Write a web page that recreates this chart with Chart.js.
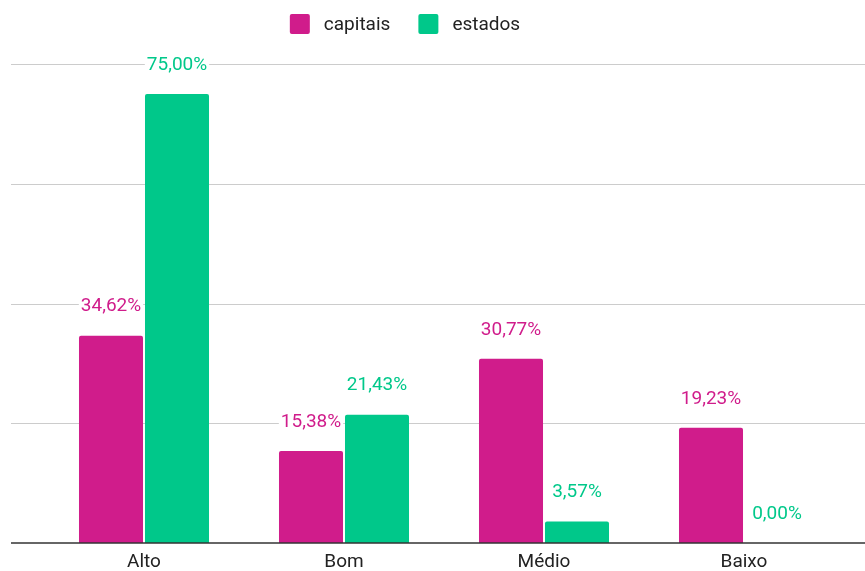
<!DOCTYPE html>
<html lang="pt-BR">
<head>
<meta charset="utf-8">
<title>capitais x estados</title>
<script src="https://cdn.jsdelivr.net/npm/chart.js@4.4.1/dist/chart.umd.min.js"></script>
<style>
    html, body { margin: 0; padding: 0; background: #ffffff; }
    #chartWrap { width: 865px; height: 571px; position: relative; }
</style>
</head>
<body>
<div id="chartWrap">
    <canvas id="levelsChart"></canvas>
</div>
<script>
// Data
const categories = ['Alto', 'Bom', 'Médio', 'Baixo'];
const capitais = [34.62, 15.38, 30.77, 19.23];
const estados = [75.00, 21.43, 3.57, 0.00];
const yTicks = [20, 40, 60, 80];

const COLORS = {
    capitais: '#D01C8B',
    estados: '#00C88A',
    grid: '#CCCCCC',
    baseline: '#333333',
    text: '#222222'
};
const FONT = 'Roboto, "Noto Sans", sans-serif';

// grid lines run past the plot area, like the original
const wideGrid = {
    id: 'wideGrid',
    beforeDatasetsDraw(chart) {
        const { ctx, scales: { y } } = chart;
        ctx.save();
        ctx.strokeStyle = COLORS.grid;
        ctx.lineWidth = 1;
        yTicks.forEach(v => {
            const py = Math.round(y.getPixelForValue(v)) + 0.5;
            ctx.beginPath();
            ctx.moveTo(11, py);
            ctx.lineTo(chart.width, py);
            ctx.stroke();
        });
        ctx.restore();
    },
    afterDatasetsDraw(chart) {
        const { ctx, scales: { y } } = chart;
        const py = y.getPixelForValue(0);
        ctx.save();
        ctx.strokeStyle = COLORS.baseline;
        ctx.lineWidth = 1.5;
        ctx.beginPath();
        ctx.moveTo(11, py);
        ctx.lineTo(chart.width, py);
        ctx.stroke();
        ctx.restore();
    }
};

// value labels above the bars
const barLabels = {
    id: 'barLabels',
    afterDatasetsDraw(chart) {
        const { ctx } = chart;
        ctx.save();
        ctx.font = '19px ' + FONT;
        ctx.textAlign = 'center';
        ctx.textBaseline = 'middle';
        chart.data.datasets.forEach((ds, i) => {
            chart.getDatasetMeta(i).data.forEach((bar, j) => {
                const text = ds.data[j].toFixed(2).replace('.', ',') + '%';
                const w = ctx.measureText(text).width;
                const cy = bar.y - 29;
                ctx.fillStyle = '#ffffff';
                ctx.fillRect(bar.x - w / 2 - 2, cy - 11, w + 4, 22);
                ctx.fillStyle = ds.backgroundColor;
                ctx.fillText(text, bar.x, cy);
            });
        });
        ctx.restore();
    }
};

// legend drawn by hand so it can sit where the original has it
const topLegend = {
    id: 'topLegend',
    afterDraw(chart) {
        const { ctx } = chart;
        const box = 20, gap = 14, spacing = 28;
        ctx.save();
        ctx.font = '19px ' + FONT;
        ctx.textBaseline = 'middle';
        const items = chart.data.datasets.map(ds => ({
            label: ds.label,
            color: ds.backgroundColor,
            w: box + gap + ctx.measureText(ds.label).width
        }));
        const total = items.reduce((s, it) => s + it.w, 0) + spacing * (items.length - 1);
        let x = 405 - total / 2;
        const cy = 24;
        items.forEach(it => {
            ctx.fillStyle = it.color;
            ctx.beginPath();
            ctx.roundRect(x, cy - box / 2, box, box, 2);
            ctx.fill();
            ctx.fillStyle = COLORS.text;
            ctx.fillText(it.label, x + box + gap, cy + 1);
            x += it.w + spacing;
        });
        ctx.restore();
    }
};

new Chart(document.getElementById('levelsChart'), {
    type: 'bar',
    data: {
        labels: categories,
        datasets: [{
            label: 'capitais',
            data: capitais,
            backgroundColor: COLORS.capitais
        }, {
            label: 'estados',
            data: estados,
            backgroundColor: COLORS.estados
        }]
    },
    options: {
        responsive: true,
        maintainAspectRatio: false,
        animation: false,
        datasets: {
            bar: {
                categoryPercentage: 0.66,
                barPercentage: 0.97,
                borderRadius: { topLeft: 2, topRight: 2 },
                borderSkipped: 'bottom'
            }
        },
        layout: {
            // the x axis reserves ~11px more than its labels need
            padding: { top: 64, left: 44, right: 21, bottom: -11 }
        },
        plugins: {
            legend: { display: false },
            tooltip: { enabled: false }
        },
        scales: {
            x: {
                grid: { display: false, drawTicks: false },
                border: { display: false },
                ticks: {
                    color: COLORS.text,
                    padding: 10,
                    font: { family: FONT, size: 19, lineHeight: 1 }
                }
            },
            y: {
                display: false,
                min: 0,
                max: 80
            }
        }
    },
    plugins: [wideGrid, barLabels, topLegend]
});
</script>
</body>
</html>
